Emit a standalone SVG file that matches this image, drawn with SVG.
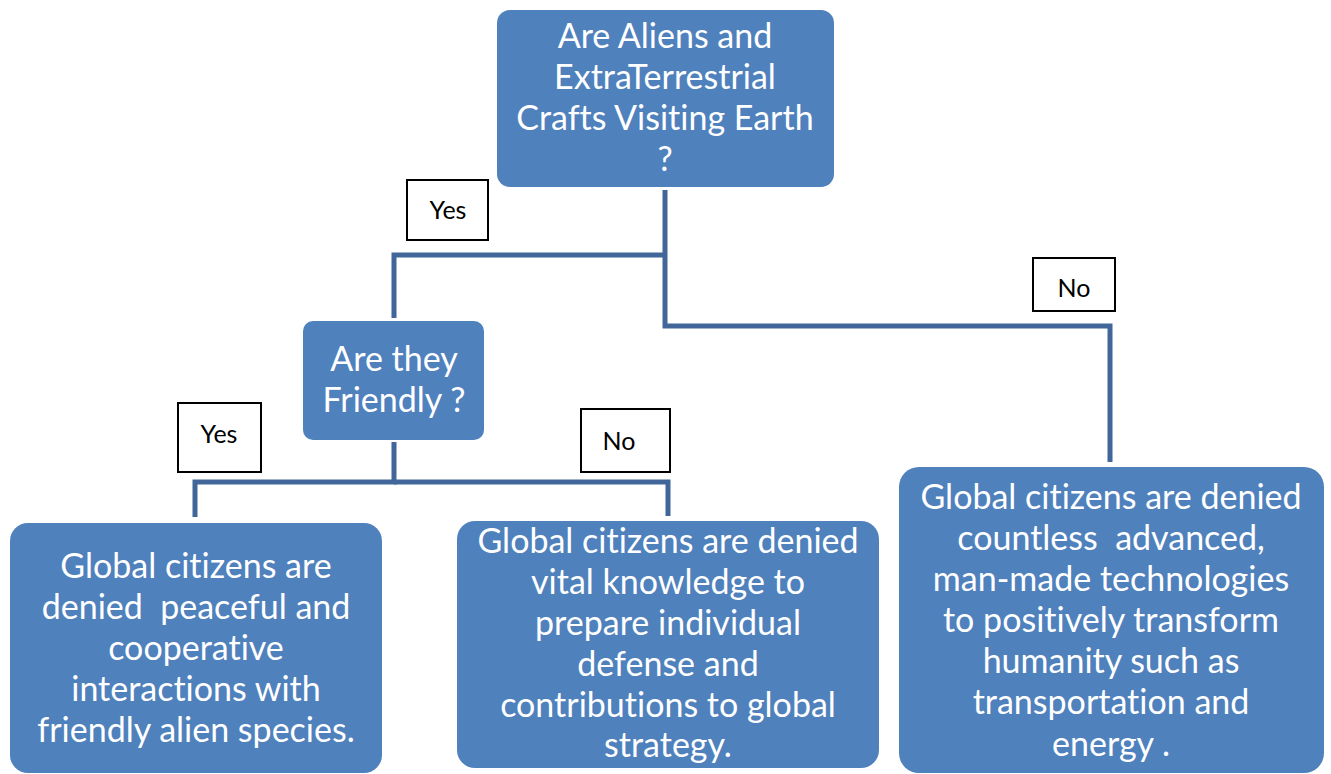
<svg xmlns="http://www.w3.org/2000/svg" width="1331" height="774" viewBox="0 0 1331 774">
<style>
.node{fill:#4f81bd;}
.nt{font-family:Lato,"Liberation Sans",sans-serif;font-size:34px;fill:#ffffff;text-anchor:middle;white-space:pre;font-variant-ligatures:none;}
.lb{fill:#ffffff;stroke:#000000;stroke-width:2;}
.lt{font-family:Lato,"Liberation Sans",sans-serif;font-size:25px;fill:#000000;text-anchor:middle;}
.cn{fill:none;stroke:#41679a;stroke-width:5;}
</style>
<rect width="1331" height="774" fill="#ffffff"/>
<g id="connectors">
<polyline class="cn" points="665,190 665,326 1110,326 1110,462"/>
<polyline class="cn" points="665,255 394,255 394,318"/>
<polyline class="cn" points="394,442 394,482 195,482 195,517"/>
<polyline class="cn" points="394,482 668,482 668,516"/>
</g>
<g id="n_top">
<rect class="node" x="497" y="10" width="337" height="177" rx="13"/>
<text class="nt"><tspan x="665" y="48">Are Aliens and</tspan><tspan x="665" y="89">ExtraTerrestrial</tspan><tspan x="665" y="130">Crafts Visiting Earth</tspan><tspan x="665" y="171">?</tspan></text>
</g>
<g id="n_friendly">
<rect class="node" x="303" y="321" width="181" height="119" rx="10"/>
<text class="nt"><tspan x="394" y="371">Are they</tspan><tspan x="394" y="412">Friendly ?</tspan></text>
</g>
<g id="n_left">
<rect class="node" x="10" y="523" width="372" height="250" rx="18"/>
<text class="nt"><tspan x="196" y="578">Global citizens are</tspan><tspan x="196" y="619">denied  peaceful and</tspan><tspan x="196" y="660">cooperative</tspan><tspan x="196" y="701">interactions with</tspan><tspan x="196" y="742">friendly alien species.</tspan></text>
</g>
<g id="n_mid">
<rect class="node" x="457" y="521" width="422" height="247" rx="18"/>
<text class="nt"><tspan x="668" y="553">Global citizens are denied</tspan><tspan x="668" y="594">vital knowledge to</tspan><tspan x="668" y="635">prepare individual</tspan><tspan x="668" y="676">defense and</tspan><tspan x="668" y="717">contributions to global</tspan><tspan x="668" y="757">strategy.</tspan></text>
</g>
<g id="n_right">
<rect class="node" x="899" y="467" width="425" height="306" rx="20"/>
<text class="nt"><tspan x="1111" y="509">Global citizens are denied</tspan><tspan x="1111" y="550">countless  advanced,</tspan><tspan x="1111" y="591">man-made technologies</tspan><tspan x="1111" y="632">to positively transform</tspan><tspan x="1111" y="673">humanity such as</tspan><tspan x="1111" y="714">transportation and</tspan><tspan x="1111" y="756">energy .</tspan></text>
</g>
<g id="l_yes1">
<rect class="lb" x="407" y="180" width="81" height="60"/>
<text class="lt" x="448" y="219">Yes</text>
</g>
<g id="l_no1">
<rect class="lb" x="1033" y="258" width="82" height="53"/>
<text class="lt" x="1074" y="297">No</text>
</g>
<g id="l_yes2">
<rect class="lb" x="178" y="403" width="83" height="69"/>
<text class="lt" x="219" y="443">Yes</text>
</g>
<g id="l_no2">
<rect class="lb" x="581" y="409" width="89" height="63"/>
<text class="lt" x="619" y="450">No</text>
</g>
</svg>
